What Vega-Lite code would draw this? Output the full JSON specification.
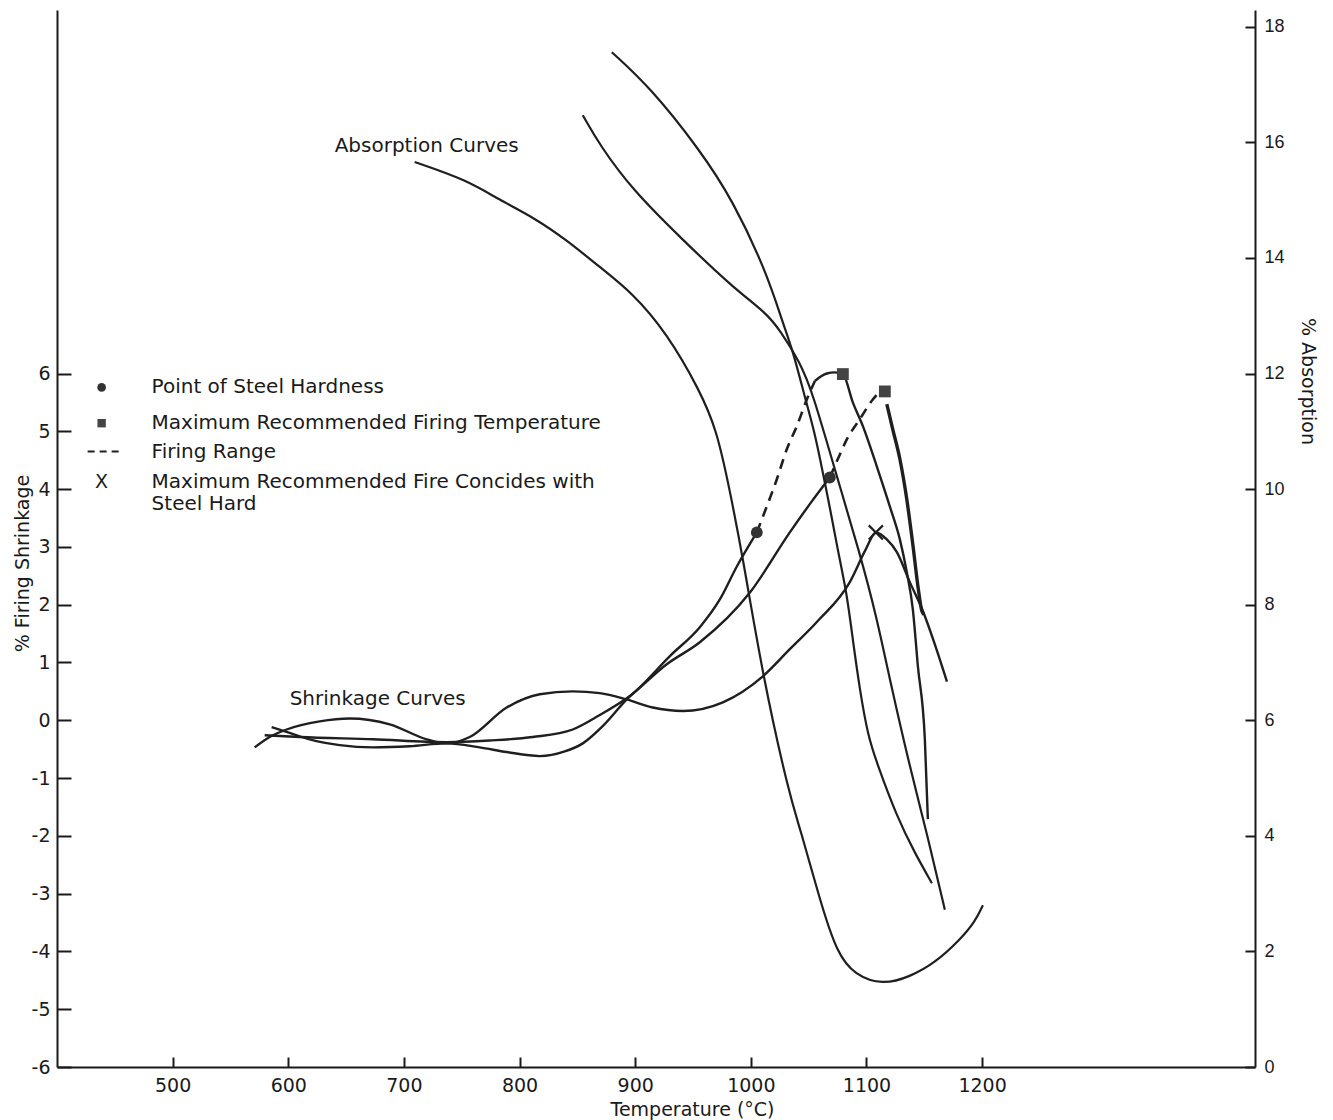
{
  "$schema": "https://vega.github.io/schema/vega-lite/v6.json",
  "width": 1198,
  "height": 1057,
  "autosize": {"type": "none"},
  "padding": {"left": 57, "top": 10, "right": 78, "bottom": 53},
  "background": "white",
  "config": {
    "view": {"stroke": null},
    "font": "DejaVu Sans",
    "axis": {
      "grid": false,
      "domainColor": "#1a1a1a",
      "domainWidth": 2,
      "tickColor": "#1a1a1a",
      "tickWidth": 2,
      "labelColor": "#1a1a1a",
      "labelFont": "DejaVu Sans",
      "labelFontSize": 19,
      "labelOverlap": false,
      "labelFlush": false,
      "titleColor": "#1a1a1a",
      "titleFont": "DejaVu Sans",
      "titleFontSize": 19,
      "titleFontWeight": "normal"
    }
  },
  "datasets": {
    "shrinkage": [
      {"curve": "S1", "temp": 585.6, "shrink": -0.12},
      {"curve": "S1", "temp": 601.2, "shrink": -0.22},
      {"curve": "S1", "temp": 618.5, "shrink": -0.33},
      {"curve": "S1", "temp": 644.5, "shrink": -0.43},
      {"curve": "S1", "temp": 673.0, "shrink": -0.47},
      {"curve": "S1", "temp": 705.0, "shrink": -0.45},
      {"curve": "S1", "temp": 737.0, "shrink": -0.40},
      {"curve": "S1", "temp": 765.6, "shrink": -0.47},
      {"curve": "S1", "temp": 788.9, "shrink": -0.55},
      {"curve": "S1", "temp": 817.5, "shrink": -0.62},
      {"curve": "S1", "temp": 839.1, "shrink": -0.54},
      {"curve": "S1", "temp": 854.7, "shrink": -0.40},
      {"curve": "S1", "temp": 873.0, "shrink": -0.08},
      {"curve": "S1", "temp": 892.7, "shrink": 0.36},
      {"curve": "S1", "temp": 904.0, "shrink": 0.57},
      {"curve": "S1", "temp": 930.0, "shrink": 1.11},
      {"curve": "S1", "temp": 955.9, "shrink": 1.61},
      {"curve": "S1", "temp": 973.2, "shrink": 2.09},
      {"curve": "S1", "temp": 987.9, "shrink": 2.66},
      {"curve": "S1", "temp": 1005.2, "shrink": 3.25},

      {"curve": "S1b", "temp": 1055.4, "shrink": 5.87},
      {"curve": "S1b", "temp": 1060.5, "shrink": 5.95},
      {"curve": "S1b", "temp": 1065.7, "shrink": 6.00},
      {"curve": "S1b", "temp": 1072.6, "shrink": 6.02},
      {"curve": "S1b", "temp": 1079.6, "shrink": 5.99},
      {"curve": "S1b", "temp": 1088.2, "shrink": 5.50},
      {"curve": "S1b", "temp": 1096.9, "shrink": 5.09},
      {"curve": "S1b", "temp": 1109.0, "shrink": 4.39},
      {"curve": "S1b", "temp": 1120.2, "shrink": 3.70},
      {"curve": "S1b", "temp": 1128.9, "shrink": 3.13},
      {"curve": "S1b", "temp": 1134.9, "shrink": 2.56},
      {"curve": "S1b", "temp": 1140.1, "shrink": 1.92},
      {"curve": "S1b", "temp": 1144.5, "shrink": 0.93},
      {"curve": "S1b", "temp": 1150.5, "shrink": -0.33},
      {"curve": "S1b", "temp": 1153.1, "shrink": -1.71},

      {"curve": "S2", "temp": 579.6, "shrink": -0.26},
      {"curve": "S2", "temp": 609.9, "shrink": -0.29},
      {"curve": "S2", "temp": 673.0, "shrink": -0.33},
      {"curve": "S2", "temp": 737.0, "shrink": -0.38},
      {"curve": "S2", "temp": 774.2, "shrink": -0.35},
      {"curve": "S2", "temp": 811.4, "shrink": -0.29},
      {"curve": "S2", "temp": 846.0, "shrink": -0.16},
      {"curve": "S2", "temp": 869.4, "shrink": 0.09},
      {"curve": "S2", "temp": 892.7, "shrink": 0.38},
      {"curve": "S2", "temp": 927.3, "shrink": 0.97},
      {"curve": "S2", "temp": 955.9, "shrink": 1.35},
      {"curve": "S2", "temp": 999.2, "shrink": 2.21},
      {"curve": "S2", "temp": 1033.7, "shrink": 3.25},
      {"curve": "S2", "temp": 1051.0, "shrink": 3.74},
      {"curve": "S2", "temp": 1068.3, "shrink": 4.20},

      {"curve": "S3", "temp": 570.9, "shrink": -0.47},
      {"curve": "S3", "temp": 583.9, "shrink": -0.29},
      {"curve": "S3", "temp": 598.6, "shrink": -0.16},
      {"curve": "S3", "temp": 627.2, "shrink": -0.02},
      {"curve": "S3", "temp": 653.1, "shrink": 0.03},
      {"curve": "S3", "temp": 687.7, "shrink": -0.07},
      {"curve": "S3", "temp": 719.7, "shrink": -0.33},
      {"curve": "S3", "temp": 737.0, "shrink": -0.40},
      {"curve": "S3", "temp": 756.9, "shrink": -0.29},
      {"curve": "S3", "temp": 788.9, "shrink": 0.22},
      {"curve": "S3", "temp": 817.5, "shrink": 0.45},
      {"curve": "S3", "temp": 846.0, "shrink": 0.50},
      {"curve": "S3", "temp": 869.4, "shrink": 0.47},
      {"curve": "S3", "temp": 892.7, "shrink": 0.36},
      {"curve": "S3", "temp": 915.2, "shrink": 0.22},
      {"curve": "S3", "temp": 941.2, "shrink": 0.16},
      {"curve": "S3", "temp": 975.8, "shrink": 0.31},
      {"curve": "S3", "temp": 1010.4, "shrink": 0.76},
      {"curve": "S3", "temp": 1033.7, "shrink": 1.23},
      {"curve": "S3", "temp": 1057.1, "shrink": 1.70},
      {"curve": "S3", "temp": 1085.6, "shrink": 2.39},
      {"curve": "S3", "temp": 1099.5, "shrink": 2.96},
      {"curve": "S3", "temp": 1108.1, "shrink": 3.25},
      {"curve": "S3", "temp": 1117.6, "shrink": 3.13},
      {"curve": "S3", "temp": 1126.3, "shrink": 2.91},
      {"curve": "S3", "temp": 1137.5, "shrink": 2.39},
      {"curve": "S3", "temp": 1148.8, "shrink": 1.89},
      {"curve": "S3", "temp": 1159.2, "shrink": 1.31},
      {"curve": "S3", "temp": 1169.6, "shrink": 0.67}
    ],
    "overfired": [
      {"curve": "S2b", "temp": 1117.6, "shrink": 5.47},
      {"curve": "S2b", "temp": 1122.8, "shrink": 5.03},
      {"curve": "S2b", "temp": 1128.9, "shrink": 4.52},
      {"curve": "S2b", "temp": 1134.9, "shrink": 3.82},
      {"curve": "S2b", "temp": 1140.1, "shrink": 3.04},
      {"curve": "S2b", "temp": 1144.5, "shrink": 2.32},
      {"curve": "S2b", "temp": 1147.9, "shrink": 1.89},
      {"curve": "S2b", "temp": 1149.6, "shrink": 1.83}
    ],
    "firingRange": [
      {"curve": "F1", "temp": 1005.2, "shrink": 3.25},
      {"curve": "F1", "temp": 1013.8, "shrink": 3.70},
      {"curve": "F1", "temp": 1022.5, "shrink": 4.17},
      {"curve": "F1", "temp": 1031.1, "shrink": 4.69},
      {"curve": "F1", "temp": 1039.8, "shrink": 5.09},
      {"curve": "F1", "temp": 1048.4, "shrink": 5.55},
      {"curve": "F1", "temp": 1055.4, "shrink": 5.87},
      {"curve": "F2", "temp": 1068.3, "shrink": 4.20},
      {"curve": "F2", "temp": 1077.0, "shrink": 4.60},
      {"curve": "F2", "temp": 1083.0, "shrink": 4.86},
      {"curve": "F2", "temp": 1094.3, "shrink": 5.21},
      {"curve": "F2", "temp": 1105.5, "shrink": 5.55},
      {"curve": "F2", "temp": 1110.7, "shrink": 5.66},
      {"curve": "F2", "temp": 1115.9, "shrink": 5.69}
    ],
    "keyDash": [
      {"curve": "key", "temp": 426.5, "shrink": 4.65},
      {"curve": "key", "temp": 454.2, "shrink": 4.65}
    ],
    "hardness": [
      {"temp": 1005.2, "shrink": 3.25, "size": 140},
      {"temp": 1068.3, "shrink": 4.20, "size": 140},
      {"temp": 438.6, "shrink": 5.76, "size": 75}
    ],
    "maxFiring": [
      {"temp": 1079.6, "shrink": 5.99, "size": 140},
      {"temp": 1115.9, "shrink": 5.69, "size": 140},
      {"temp": 438.6, "shrink": 5.14, "size": 70}
    ],
    "coincides": [
      {"temp": 1108.1, "shrink": 3.25}
    ],
    "notes": [
      {"temp": 640.1, "shrink": 9.93, "text": "Absorption Curves"},
      {"temp": 601.2, "shrink": 0.36, "text": "Shrinkage Curves"},
      {"temp": 481.8, "shrink": 5.76, "text": "Point of Steel Hardness"},
      {"temp": 481.8, "shrink": 5.14, "text": "Maximum Recommended Firing Temperature"},
      {"temp": 481.8, "shrink": 4.64, "text": "Firing Range"},
      {"temp": 481.8, "shrink": 4.13, "text": "Maximum Recommended Fire Concides with"},
      {"temp": 481.8, "shrink": 3.75, "text": "Steel Hard"}
    ],
    "keyLetters": [
      {"temp": 438.6, "shrink": 4.13, "text": "X"}
    ],
    "absorption": [
      {"curve": "A1", "temp": 709.3, "absorption": 15.66},
      {"curve": "A1", "temp": 754.3, "absorption": 15.35},
      {"curve": "A1", "temp": 782.9, "absorption": 15.00},
      {"curve": "A1", "temp": 811.4, "absorption": 14.71},
      {"curve": "A1", "temp": 840.8, "absorption": 14.31},
      {"curve": "A1", "temp": 869.4, "absorption": 13.84},
      {"curve": "A1", "temp": 897.9, "absorption": 13.39},
      {"curve": "A1", "temp": 927.3, "absorption": 12.70},
      {"curve": "A1", "temp": 955.8, "absorption": 11.71},
      {"curve": "A1", "temp": 970.6, "absorption": 11.02},
      {"curve": "A1", "temp": 981.8, "absorption": 9.98},
      {"curve": "A1", "temp": 993.1, "absorption": 8.82},
      {"curve": "A1", "temp": 1010.4, "absorption": 6.75},
      {"curve": "A1", "temp": 1033.7, "absorption": 4.67},
      {"curve": "A1", "temp": 1042.4, "absorption": 4.15},
      {"curve": "A1", "temp": 1059.7, "absorption": 2.89},
      {"curve": "A1", "temp": 1074.4, "absorption": 1.97},
      {"curve": "A1", "temp": 1090.0, "absorption": 1.59},
      {"curve": "A1", "temp": 1114.2, "absorption": 1.42},
      {"curve": "A1", "temp": 1137.5, "absorption": 1.56},
      {"curve": "A1", "temp": 1159.2, "absorption": 1.80},
      {"curve": "A1", "temp": 1180.8, "absorption": 2.20},
      {"curve": "A1", "temp": 1193.8, "absorption": 2.51},
      {"curve": "A1", "temp": 1200.7, "absorption": 2.80},

      {"curve": "A2", "temp": 854.7, "absorption": 16.47},
      {"curve": "A2", "temp": 869.4, "absorption": 15.95},
      {"curve": "A2", "temp": 897.9, "absorption": 15.17},
      {"curve": "A2", "temp": 941.2, "absorption": 14.31},
      {"curve": "A2", "temp": 984.4, "absorption": 13.49},
      {"curve": "A2", "temp": 1013.8, "absorption": 13.04},
      {"curve": "A2", "temp": 1025.1, "absorption": 12.75},
      {"curve": "A2", "temp": 1042.4, "absorption": 12.20},
      {"curve": "A2", "temp": 1053.6, "absorption": 11.66},
      {"curve": "A2", "temp": 1072.7, "absorption": 10.33},
      {"curve": "A2", "temp": 1094.3, "absorption": 8.89},
      {"curve": "A2", "temp": 1109.0, "absorption": 7.77},
      {"curve": "A2", "temp": 1120.2, "absorption": 6.70},
      {"curve": "A2", "temp": 1137.5, "absorption": 5.19},
      {"curve": "A2", "temp": 1152.2, "absorption": 4.05},
      {"curve": "A2", "temp": 1167.8, "absorption": 2.72},

      {"curve": "A3", "temp": 879.8, "absorption": 17.56},
      {"curve": "A3", "temp": 912.6, "absorption": 16.96},
      {"curve": "A3", "temp": 955.9, "absorption": 15.87},
      {"curve": "A3", "temp": 984.4, "absorption": 15.00},
      {"curve": "A3", "temp": 1013.8, "absorption": 13.74},
      {"curve": "A3", "temp": 1027.7, "absorption": 12.87},
      {"curve": "A3", "temp": 1036.3, "absorption": 12.40},
      {"curve": "A3", "temp": 1046.7, "absorption": 11.59},
      {"curve": "A3", "temp": 1055.4, "absorption": 10.97},
      {"curve": "A3", "temp": 1062.3, "absorption": 10.28},
      {"curve": "A3", "temp": 1068.3, "absorption": 9.69},
      {"curve": "A3", "temp": 1075.2, "absorption": 8.94},
      {"curve": "A3", "temp": 1083.0, "absorption": 8.20},
      {"curve": "A3", "temp": 1088.2, "absorption": 7.39},
      {"curve": "A3", "temp": 1094.3, "absorption": 6.52},
      {"curve": "A3", "temp": 1101.2, "absorption": 5.74},
      {"curve": "A3", "temp": 1109.0, "absorption": 5.26},
      {"curve": "A3", "temp": 1126.3, "absorption": 4.33},
      {"curve": "A3", "temp": 1141.9, "absorption": 3.70},
      {"curve": "A3", "temp": 1156.6, "absorption": 3.18}
    ]
  },
  "encoding": {
    "x": {
      "field": "temp",
      "type": "quantitative",
      "scale": {"domain": [400, 1436], "nice": false, "zero": false},
      "axis": {
        "orient": "bottom",
        "values": [500, 600, 700, 800, 900, 1000, 1100, 1200],
        "format": "d",
        "tickSize": -10,
        "labelPadding": 19,
        "labelBaseline": "top",
        "title": "Temperature (°C)",
        "titleX": 635,
        "titleY": 42,
        "titleAlign": "center",
        "titleBaseline": "middle"
      }
    }
  },
  "layer": [
    {
      "encoding": {
        "y": {
          "field": "shrink",
          "type": "quantitative",
          "scale": {"domain": [-6, 12.29], "nice": false, "zero": false},
          "axis": {
            "orient": "left",
            "values": [-6, -5, -4, -3, -2, -1, 0, 1, 2, 3, 4, 5, 6],
            "labelExpr": "datum.value < 0 ? '-' + abs(datum.value) : '' + datum.value",
            "tickSize": -14,
            "labelPadding": 21,
            "title": "% Firing Shrinkage",
            "titleAngle": -90,
            "titleX": -35,
            "titleY": 553,
            "titleAlign": "center",
            "titleBaseline": "middle"
          }
        }
      },
      "layer": [
        {
          "data": {"name": "shrinkage"},
          "mark": {"type": "line", "interpolate": "monotone", "color": "#1f1f1f", "strokeWidth": 2.4},
          "encoding": {"detail": {"field": "curve"}}
        },
        {
          "data": {"name": "overfired"},
          "mark": {"type": "line", "interpolate": "monotone", "color": "#1f1f1f", "strokeWidth": 3.4},
          "encoding": {"detail": {"field": "curve"}}
        },
        {
          "data": {"name": "firingRange"},
          "mark": {"type": "line", "interpolate": "monotone", "color": "#1f1f1f", "strokeWidth": 2.6, "strokeDash": [10, 7]},
          "encoding": {"detail": {"field": "curve"}}
        },
        {
          "data": {"name": "keyDash"},
          "mark": {"type": "line", "color": "#1f1f1f", "strokeWidth": 2, "strokeDash": [7, 5]},
          "encoding": {"detail": {"field": "curve"}}
        },
        {
          "data": {"name": "hardness"},
          "mark": {"type": "point", "shape": "circle", "filled": true, "color": "#333333", "opacity": 1},
          "encoding": {"size": {"field": "size", "type": "quantitative", "scale": null}}
        },
        {
          "data": {"name": "maxFiring"},
          "mark": {"type": "point", "shape": "square", "filled": true, "color": "#444444", "opacity": 1},
          "encoding": {"size": {"field": "size", "type": "quantitative", "scale": null}}
        },
        {
          "data": {"name": "coincides"},
          "mark": {"type": "point", "shape": "M-1,-1L1,1M-1,1L1,-1", "filled": false, "color": "#1f1f1f", "strokeWidth": 2.2, "size": 200, "opacity": 1}
        },
        {
          "data": {"name": "notes"},
          "mark": {"type": "text", "align": "left", "baseline": "middle", "font": "DejaVu Sans", "fontSize": 20, "color": "#1a1a1a"},
          "encoding": {"text": {"field": "text"}}
        },
        {
          "data": {"name": "keyLetters"},
          "mark": {"type": "text", "align": "center", "baseline": "middle", "font": "DejaVu Sans", "fontSize": 19, "color": "#1a1a1a"},
          "encoding": {"text": {"field": "text"}}
        }
      ]
    },
    {
      "data": {"name": "absorption"},
      "mark": {"type": "line", "interpolate": "basis", "color": "#1f1f1f", "strokeWidth": 2.2},
      "encoding": {
        "y": {
          "field": "absorption",
          "type": "quantitative",
          "scale": {"domain": [0, 18.29], "nice": false, "zero": false},
          "axis": {
            "orient": "right",
            "values": [0, 2, 4, 6, 8, 10, 12, 14, 16, 18],
            "tickSize": -10,
            "labelPadding": 19,
            "labelFont": "Liberation Sans",
            "labelFontSize": 18,
            "title": "% Absorption",
            "titleAngle": 90,
            "titleX": 52,
            "titleY": 371,
            "titleAlign": "center",
            "titleBaseline": "middle"
          }
        },
        "detail": {"field": "curve"}
      }
    }
  ],
  "resolve": {"scale": {"y": "independent"}}
}
